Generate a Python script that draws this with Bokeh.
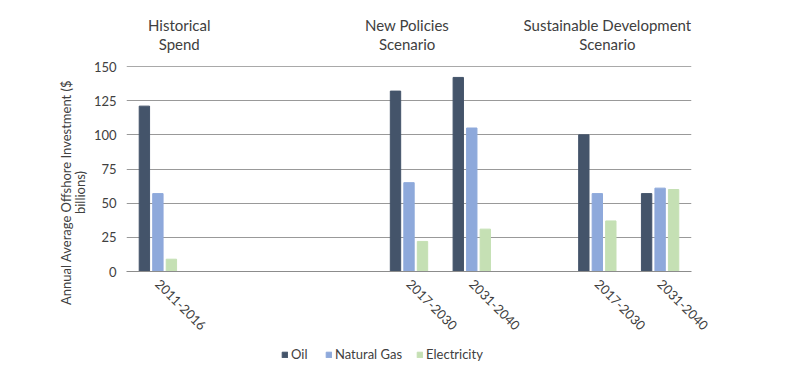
import math
from bokeh.plotting import figure
from bokeh.layouts import column, row
from bokeh.models import (ColumnDataSource, FixedTicker, Legend, LegendItem, Range1d, Span)
from bokeh.core.properties import value
from bokeh.transform import dodge
from bokeh.embed import file_html
from bokeh.resources import INLINE

# ---- data ----
categories = ["2011-2016", "2017-2030", "2031-2040", "2017-2030", "2031-2040"]
slots = [0, 4, 5, 7, 8]          # category slot positions (9 slots, some empty)
oil = [121, 132, 142, 100, 57]
natural_gas = [57, 65, 105, 57, 61]
electricity = [9, 22, 31, 37, 60]
series_names = ["Oil", "Natural Gas", "Electricity"]
y_ticks = [0, 25, 50, 75, 100, 125, 150]
header_line1 = ["Historical", "New Policies", "Sustainable Development"]
header_line2 = ["Spend", "Scenario", "Scenario"]
header_x = [0.34, 3.97, 7.16]     # header centres, in category-slot units
ylabel_lines = ["Annual Average Offshore Investment ($", "billions)"]

colors = ["#44546A", "#8EA9DB", "#C5E0B4"]
FONT = "Lato"
TXT = "#404040"
TOTAL_W, TOTAL_H = 784, 362
YL_W = 88
W = TOTAL_W - YL_W
LEFT, RIGHT = 126 - YL_W, 93

xr = Range1d(-0.5, 8.5)

# ---------- y-axis title strip ----------
yl = figure(width=YL_W, height=TOTAL_H, output_backend="svg", toolbar_location=None,
            x_range=Range1d(0, YL_W), y_range=Range1d(0, TOTAL_H),
            min_border_left=0, min_border_right=0, min_border_top=0, min_border_bottom=0)
yl.axis.visible = False
yl.grid.visible = False
yl.outline_line_color = None
ylsrc = ColumnDataSource(dict(t=ylabel_lines, x=[65, 79], y=[TOTAL_H - 192] * 2))
yl.text(x="x", y="y", text="t", source=ylsrc, angle=math.pi / 2, text_align="center",
        text_baseline="middle", text_font=value(FONT), text_font_size="13px", text_color=TXT)

# ---------- header strip ----------
hdr = figure(width=W, height=60, output_backend="svg", toolbar_location=None,
             x_range=xr, y_range=Range1d(0, 60),
             min_border_left=LEFT, min_border_right=RIGHT, min_border_top=0, min_border_bottom=0)
hdr.axis.visible = False
hdr.grid.visible = False
hdr.outline_line_color = None
hsrc = ColumnDataSource(dict(x=header_x, t1=header_line1, t2=header_line2,
                             y1=[36] * 3, y2=[17] * 3))
for t, y in (("t1", "y1"), ("t2", "y2")):
    hdr.text(x="x", y=y, text=t, source=hsrc, text_align="center", text_baseline="middle",
             text_font=value(FONT), text_font_size="15px", text_color=TXT)

# ---------- main chart ----------
src = ColumnDataSource(dict(x=slots, oil=oil, gas=natural_gas, elec=electricity))

p = figure(width=W, height=284, output_backend="svg", toolbar_location=None,
           x_range=xr, y_range=Range1d(0, 150),
           min_border_left=LEFT, min_border_right=RIGHT, min_border_top=6, min_border_bottom=73)
p.outline_line_color = None

bw = 0.165
off = 0.215
r1 = p.vbar(x=dodge("x", -off), top="oil", width=bw, source=src, color=colors[0])
r2 = p.vbar(x=dodge("x", 0), top="gas", width=bw, source=src, color=colors[1])
r3 = p.vbar(x=dodge("x", off), top="elec", width=bw, source=src, color=colors[2])

p.xaxis.ticker = FixedTicker(ticks=slots)
p.xaxis.major_label_overrides = {s: c for s, c in zip(slots, categories)}
p.xaxis.major_label_orientation = -math.pi / 4
p.xaxis.major_tick_line_color = None
p.xaxis.major_tick_out = 0
p.xaxis.minor_tick_line_color = None
p.xaxis.axis_line_color = "#8c8c8c"
p.xaxis.major_label_text_font = FONT
p.xaxis.major_label_text_font_size = "13px"
p.xaxis.major_label_text_color = TXT
p.xaxis.major_label_standoff = 10

p.yaxis.ticker = FixedTicker(ticks=y_ticks)
p.yaxis.axis_line_color = None
p.yaxis.major_tick_line_color = None
p.yaxis.major_tick_out = 0
p.yaxis.minor_tick_line_color = None
p.yaxis.major_label_text_font = FONT
p.yaxis.major_label_text_font_size = "13px"
p.yaxis.major_label_text_color = TXT
p.yaxis.major_label_standoff = 10

p.xgrid.grid_line_color = None
p.ygrid.grid_line_color = "#999999"
p.ygrid.grid_line_width = 1
p.add_layout(Span(location=y_ticks[-1], dimension="width", line_color="#555555", line_width=1))

# ---------- legend strip ----------
lg = figure(width=W, height=TOTAL_H - 60 - 284, output_backend="svg", toolbar_location=None,
            x_range=Range1d(0, 1), y_range=Range1d(0, 1),
            min_border_left=0, min_border_right=0, min_border_top=0, min_border_bottom=0)
lg.axis.visible = False
lg.grid.visible = False
lg.outline_line_color = None
# swatch-only renderers (hidden; only their legend swatches are shown)
dummies = [lg.vbar(x=[0.5], top=[1], width=0.1, color=c, visible=False) for c in colors]
legend = Legend(items=[LegendItem(label=n, renderers=[r]) for n, r in zip(series_names, dummies)],
                orientation="horizontal", location=(155, 0),
                label_text_font=FONT, label_text_font_size="13px", label_text_color=TXT,
                glyph_width=7, glyph_height=7, spacing=14, label_standoff=3,
                label_height=12, border_line_color=None, background_fill_alpha=0,
                inactive_fill_alpha=0, margin=0, padding=2)
lg.add_layout(legend)

layout = row(yl, column(hdr, p, lg, spacing=0), spacing=0)
open("out.html", "w").write(file_html(layout, INLINE))
